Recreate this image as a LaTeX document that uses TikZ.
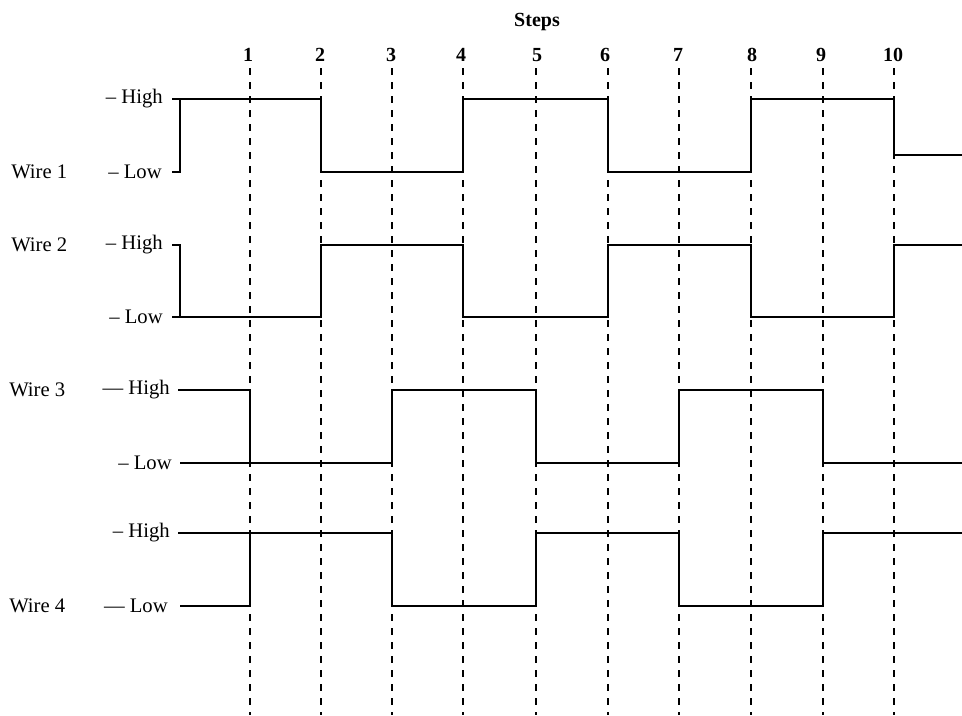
\documentclass[tikz,border=0pt]{standalone}
\usepackage{fontspec}
\setmainfont{Liberation Serif}
\usepackage{tikz}

\begin{document}
\begin{tikzpicture}[x=0.75pt,y=0.75pt,yscale=-1,xscale=1,
    wave/.style={line width=1.5pt, line join=miter},
    stepline/.style={line width=1.3pt, dash pattern={on 5pt off 5.5pt}},
    lbl/.style={inner sep=0.75pt, font=\fontsize{15.5}{18}\selectfont},
    num/.style={inner sep=0.75pt, font=\fontsize{15}{17}\selectfont\bfseries}]
    \useasboundingbox (0,0) rectangle (962,715);

    %Dashed step lines
    \draw [stepline] (250,68) -- (250,715) ;
    \draw [stepline] (321,68) -- (321,715) ;
    \draw [stepline] (392,68) -- (392,715) ;
    \draw [stepline] (463,68) -- (463,715) ;
    \draw [stepline] (536,68) -- (536,715) ;
    \draw [stepline] (608,68) -- (608,715) ;
    \draw [stepline] (679,68) -- (679,715) ;
    \draw [stepline] (751,68) -- (751,715) ;
    \draw [stepline] (823,68) -- (823,715) ;
    \draw [stepline] (894,68) -- (894,715) ;

    %Wire 1
    \draw [wave] (180,99) -- (180,172) -- (172,172) ;
    \draw [wave] (172,99) -- (321,99) -- (321,172) -- (463,172) -- (463,99) -- (608,99) -- (608,172) -- (751,172) -- (751,99) -- (894,99) -- (894,155) -- (962,155) ;
    %Wire 2
    \draw [wave] (172,245) -- (180,245) -- (180,317) ;
    \draw [wave] (172,317) -- (321,317) -- (321,245) -- (463,245) -- (463,317) -- (608,317) -- (608,245) -- (751,245) -- (751,317) -- (894,317) -- (894,245) -- (962,245) ;
    %Wire 3
    \draw [wave] (180,463) -- (250,463) ;
    \draw [wave] (178,390) -- (250,390) -- (250,463) -- (392,463) -- (392,390) -- (536,390) -- (536,463) -- (679,463) -- (679,390) -- (823,390) -- (823,463) -- (962,463) ;
    %Wire 4
    \draw [wave] (178,533) -- (250,533) ;
    \draw [wave] (180,606) -- (250,606) -- (250,533) -- (392,533) -- (392,606) -- (536,606) -- (536,533) -- (679,533) -- (679,606) -- (823,606) -- (823,533) -- (962,533) ;

    % Text Node
    \node [num] (steps) at (537,22) {Steps};
    \node [num] (n1) at (248,55) {1};
    \node [num] (n2) at (320,55) {2};
    \node [num] (n3) at (391,55) {3};
    \node [num] (n4) at (461,55) {4};
    \node [num] (n5) at (537,55) {5};
    \node [num] (n6) at (605,55) {6};
    \node [num] (n7) at (678,55) {7};
    \node [num] (n8) at (752,55) {8};
    \node [num] (n9) at (821,55) {9};
    \node [num] (n10) at (893,55) {10};

    % Text Node
    \node [lbl, anchor=west] (wire1) at (10,172) {Wire 1};
    \node [lbl, anchor=west] (wire2) at (10,245) {Wire 2};
    \node [lbl, anchor=west] (wire3) at (8,390) {Wire 3};
    \node [lbl, anchor=west] (wire4) at (8,606) {Wire 4};
    % Text Node
    \node [lbl, anchor=east] (high1) at (164,99) {– High};
    \node [lbl, anchor=east] (low1) at (163,172) {– Low};
    \node [lbl, anchor=east] (high2) at (164,245) {– High};
    \node [lbl, anchor=east] (low2) at (164,317) {– Low};
    \node [lbl, anchor=east] (high3) at (171,390) {— High};
    \node [lbl, anchor=east] (low3) at (173,463) {– Low};
    \node [lbl, anchor=east] (high4) at (171,533) {– High};
    \node [lbl, anchor=east] (low4) at (169,606) {— Low};
\end{tikzpicture}
\end{document}
